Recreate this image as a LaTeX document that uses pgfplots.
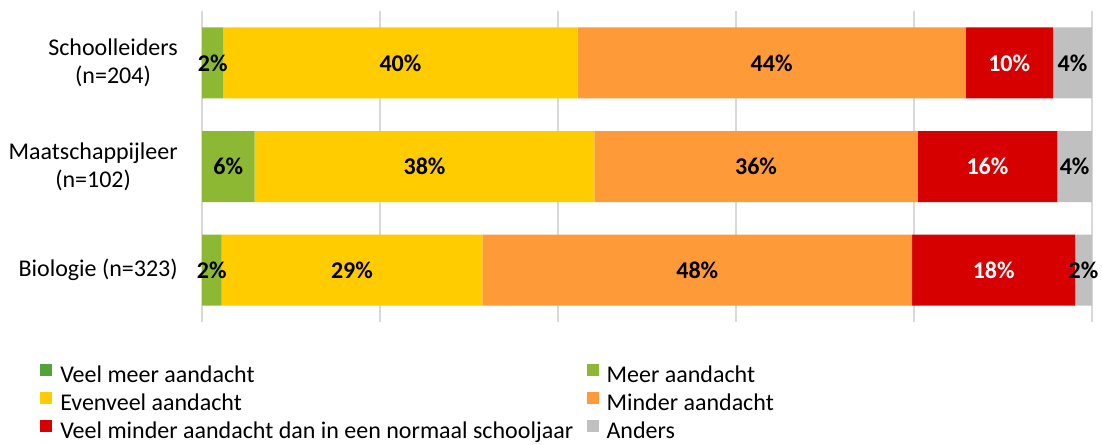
\documentclass[border=0pt]{standalone}
\usepackage{pgfplots}
\pgfplotsset{compat=1.18}
\usepackage{pgfplotstable}
\usepackage{fontspec}
\setmainfont{Carlito}

\definecolor{vmeer}{HTML}{55A13A}
\definecolor{meer}{HTML}{8CB834}
\definecolor{even}{HTML}{FFCC00}
\definecolor{minder}{HTML}{FF9A38}
\definecolor{vminder}{HTML}{D60000}
\definecolor{anders}{HTML}{C0C0C0}
\definecolor{gridc}{HTML}{D9D9D9}

% 0 = Biologie, 1 = Maatschappijleer, 2 = Schoolleiders
\pgfplotstableread{
pos vmeer meer even minder vminder anders
0   0     2.2  29.3 48.3   18.3    1.9
1   0     5.9  38.2 36.3   15.7    3.9
2   0     2.4  39.8 43.6   9.8     4.4
}\datatable

\newcommand{\lblfont}{\fontsize{18}{21}\selectfont}

\begin{document}
\begin{tikzpicture}
\useasboundingbox (0,0) rectangle (826.5pt,333pt);
\begin{axis}[
    at={(151.5pt,91.5pt)}, anchor=south west,
    scale only axis,
    width=667.5pt, height=233.25pt,
    xbar stacked, bar width=53.25pt,
    xmin=0, xmax=100, ymin=-0.5, ymax=2.5,
    xtick={0,20,...,100}, xticklabels={},
    ytick={0,1,2},
    yticklabels={Biologie (n=323),{Maatschappijleer\\(n=102)},{Schoolleiders\\(n=204)}},
    yticklabel style={align=center, font=\lblfont, inner sep=0pt, xshift=-18pt},
    xmajorgrids, grid style={gridc, line width=1.5pt},
    axis line style={draw=none}, major tick length=0pt,
    clip=false,
    lbl/.style={
        nodes near coords={\textbf{\pgfmathprintnumber[fixed,precision=0,assume math mode=true]{\pgfplotspointmeta}\%}},
        every node near coord/.append style={
            anchor=center, font=\lblfont\bfseries, text=#1}
    },
    legend columns=2,
    legend cell align=left,
    legend style={
        at={(axis description cs:-0.182,-0.128)}, anchor=north west,
        draw=none, fill=none, inner sep=0pt, font=\lblfont,
        nodes={inner sep=0pt, text height=15pt, text depth=6pt},
        row sep=0pt,
        /tikz/every odd column/.style={column sep=6pt},
        /tikz/every even column/.style={column sep=10pt}
    },
    legend image code/.code={\fill[#1] (0pt,0pt) rectangle (9pt,9pt);},
]
\addplot[fill=vmeer, draw=none] table[x=vmeer, y=pos] {\datatable};
\addplot[fill=meer, draw=none, lbl=black] table[x=meer, y=pos] {\datatable};
\addplot[fill=even, draw=none, lbl=black] table[x=even, y=pos] {\datatable};
\addplot[fill=minder, draw=none, lbl=black] table[x=minder, y=pos] {\datatable};
\addplot[fill=vminder, draw=none, lbl=white] table[x=vminder, y=pos] {\datatable};
\addplot[fill=anders, draw=none, lbl=black] table[x=anders, y=pos] {\datatable};
\legend{Veel meer aandacht, Meer aandacht, Evenveel aandacht, Minder aandacht,
        Veel minder aandacht dan in een normaal schooljaar, Anders}
\end{axis}
\end{tikzpicture}
\end{document}
